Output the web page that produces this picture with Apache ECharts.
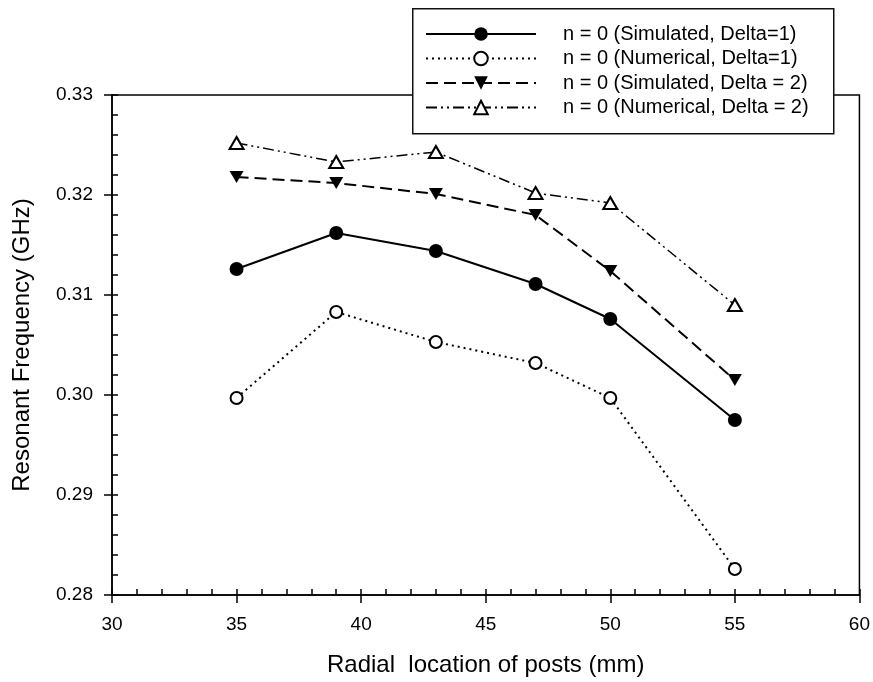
<!DOCTYPE html>
<html>
<head>
<meta charset="utf-8">
<script src="https://cdn.jsdelivr.net/npm/echarts@6/dist/echarts.min.js"></script>
<style>
html,body{margin:0;padding:0;background:#fff;}
#chart{width:873px;height:682px;}
</style>
</head>
<body>
<div id="chart"></div>
<script>
// ---- data ----
const radialLocation = [35, 39, 43, 47, 50, 55];
const simDelta1 = [0.3126, 0.3162, 0.3144, 0.3111, 0.3076, 0.2975];
const numDelta1 = [0.2997, 0.3083, 0.3053, 0.3032, 0.2997, 0.2826];
const simDelta2 = [0.3218, 0.3212, 0.3201, 0.3180, 0.3124, 0.3015];
const numDelta2 = [0.3252, 0.3233, 0.3243, 0.3202, 0.3192, 0.3090];
const seriesNames = [
  'n = 0 (Simulated, Delta=1)',
  'n = 0 (Numerical, Delta=1)',
  'n = 0 (Simulated, Delta = 2)',
  'n = 0 (Numerical, Delta = 2)'
];
const xTitle = 'Radial  location of posts (mm)';
const yTitle = 'Resonant Frequency (GHz)';

const FONT = '"Liberation Sans", Arial, sans-serif';
function pairs(ys) { return radialLocation.map((x, i) => [x, ys[i]]); }

const chart = echarts.init(document.getElementById('chart'), null, {renderer: 'canvas'});
const black = '#000';

const option = {
  animation: false,
  backgroundColor: '#fff',
  textStyle: {fontFamily: FONT},
  grid: {
    left: 112, right: 12, top: 95, bottom: 87,
    show: true, borderColor: black, borderWidth: 1.5, backgroundColor: 'transparent'
  },
  graphic: [{
    type: 'rect', left: 412, top: 8, z: 3,
    shape: {width: 421, height: 125},
    style: {fill: '#fff', stroke: '#111', lineWidth: 1.5}
  }],
  legend: {
    orient: 'vertical', left: 425, top: 24, padding: 0,
    itemWidth: 110, itemHeight: 17, itemGap: 4.5,
    selectedMode: false, z: 5,
    textStyle: {fontSize: 20, color: black, fontFamily: FONT, padding: [0, 0, 0, 22], lineHeight: 16},
    data: seriesNames
  },
  xAxis: [{
    type: 'value', position: 'bottom', min: 30, max: 60, interval: 5,
    axisLine: {show: true, onZero: false, lineStyle: {color: black, width: 1.5}},
    axisTick: {show: true, length: 8, lineStyle: {color: black, width: 1.5}},
    axisLabel: {fontSize: 19, color: black, margin: 20, fontFamily: FONT},
    splitLine: {show: false},
    name: xTitle, nameLocation: 'middle', nameGap: 58,
    nameTextStyle: {fontSize: 24, color: black, fontFamily: FONT}
  }, {
    type: 'value', position: 'bottom', min: 30, max: 60, interval: 1,
    axisLine: {show: false},
    axisTick: {show: true, inside: true, length: 6, lineStyle: {color: black, width: 1.5}},
    axisLabel: {show: false},
    splitLine: {show: false}
  }],
  yAxis: [{
    type: 'value', position: 'left', min: 0.28, max: 0.33, interval: 0.01,
    axisLine: {show: true, onZero: false, lineStyle: {color: black, width: 1.5}},
    axisTick: {show: true, length: 8, lineStyle: {color: black, width: 1.5}},
    axisLabel: {fontSize: 19, color: black, margin: 19, fontFamily: FONT,
      formatter: v => v.toFixed(2)},
    splitLine: {show: false},
    name: yTitle, nameLocation: 'middle', nameGap: 78,
    nameTextStyle: {fontSize: 24, color: black, fontFamily: FONT}
  }, {
    type: 'value', position: 'left', min: 0.28, max: 0.33, interval: 0.002,
    axisLine: {show: false},
    axisTick: {show: true, inside: true, length: 6, lineStyle: {color: black, width: 1.5}},
    axisLabel: {show: false},
    splitLine: {show: false}
  }],
  series: [{
    name: seriesNames[0], type: 'line', data: pairs(simDelta1),
    xAxisIndex: 0, yAxisIndex: 0, z: 2,
    symbol: 'circle', symbolSize: 14,
    color: black,
    itemStyle: {color: black},
    lineStyle: {color: black, width: 2, type: 'solid'}
  }, {
    name: seriesNames[1], type: 'line', data: pairs(numDelta1),
    xAxisIndex: 0, yAxisIndex: 0, z: 2,
    symbol: 'emptyCircle', symbolSize: 12,
    color: black,
    itemStyle: {color: black, borderWidth: 2},
    lineStyle: {color: black, width: 2, type: [2, 4]}
  }, {
    name: seriesNames[2], type: 'line', data: pairs(simDelta2),
    xAxisIndex: 0, yAxisIndex: 0, z: 2,
    symbol: 'triangle', symbolSize: [14, 12], symbolRotate: 180,
    color: black,
    itemStyle: {color: black},
    lineStyle: {color: black, width: 2, type: [12, 6]}
  }, {
    name: seriesNames[3], type: 'line', data: pairs(numDelta2),
    xAxisIndex: 0, yAxisIndex: 0, z: 2,
    symbol: 'triangle', symbolSize: [14, 12],
    color: black,
    itemStyle: {color: '#fff', borderColor: black, borderWidth: 2},
    lineStyle: {color: black, width: 1.5, type: [11, 4, 2, 4, 2, 4]}
  }]
};
chart.setOption(option);
</script>
</body>
</html>
